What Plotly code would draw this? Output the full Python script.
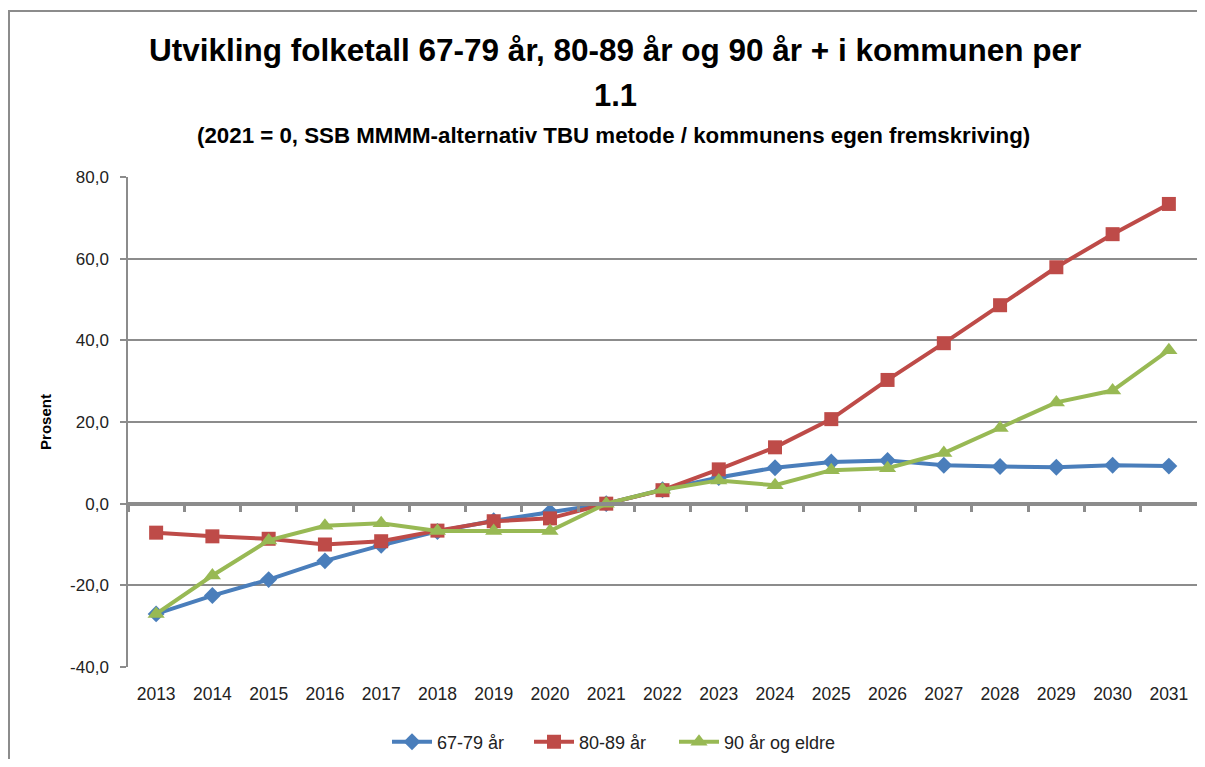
import plotly.graph_objects as go

years = list(range(2013, 2032))
s_6779 = [-27.0, -22.5, -18.6, -14.0, -10.2, -6.8, -4.2, -2.0, 0.0, 3.4, 6.4, 8.8, 10.2, 10.6, 9.4, 9.1, 8.9, 9.4, 9.2]
s_8089 = [-7.1, -8.0, -8.6, -10.0, -9.2, -6.6, -4.3, -3.6, 0.0, 3.3, 8.4, 13.8, 20.7, 30.3, 39.3, 48.6, 57.9, 66.0, 73.4]
s_90 = [-27.0, -17.6, -9.0, -5.4, -4.8, -6.7, -6.7, -6.7, 0.0, 3.4, 5.7, 4.5, 8.2, 8.7, 12.4, 18.5, 24.8, 27.7, 37.6]
names = ["67-79 år", "80-89 år", "90 år og eldre"]
y_ticks = [-40, -20, 0, 20, 40, 60, 80]
y_ticktext = ["-40,0", "-20,0", "0,0", "20,0", "40,0", "60,0", "80,0"]

colors = ["#4a7ebb", "#be4b48", "#98b954"]
symbols = ["diamond", "square", "triangle-up"]
sizes = [13, 14, 15]
legend_ids = ["legend", "legend2", "legend3"]
legend_left = [393, 535, 680]  # screen x where each legend entry starts

FONT = "Liberation Sans"
fig = go.Figure()
for vals, nm, c, sym, sz, lg in zip([s_6779, s_8089, s_90], names, colors, symbols, sizes, legend_ids):
    fig.add_trace(go.Scatter(x=years, y=vals, name=nm, mode="lines+markers", legend=lg,
                             line=dict(color=c, width=4),
                             marker=dict(symbol=sym, size=sz, color=c)))

# zero-crossing category axis with ticks between categories
fig.add_trace(go.Scatter(x=years, y=[None]*len(years), xaxis="x2", showlegend=False, hoverinfo="skip"))

OFF = 8  # page body margin
W, H = 1189, 751
ml, mr, mt, mb = 120, 0, 169, 92
pw, ph = W - ml - mr, H - mt - mb

def px(x):
    return (x - OFF - ml) / pw

def py(y):
    return (H - mb - (y - OFF)) / ph

legends = {}
for lg, xl in zip(legend_ids, legend_left):
    legends[lg] = dict(orientation="h", x=px(xl - 6), xanchor="left", y=py(742), yanchor="middle",
                       font=dict(size=18, family=FONT, color="#222222"), itemwidth=40,
                       bgcolor="rgba(0,0,0,0)")

fig.update_layout(
    width=W, height=H,
    margin=dict(l=ml, r=mr, t=mt, b=mb, autoexpand=False),
    paper_bgcolor="white", plot_bgcolor="white",
    font=dict(family=FONT, color="#222222", size=17),
    showlegend=True,
    **legends,
    xaxis=dict(range=[years[0] - 0.5, years[-1] + 0.5], tickvals=years, ticktext=[str(y) for y in years],
               showgrid=False, zeroline=False, showline=False, ticks="", ticklen=0,
               ticklabelstandoff=14,
               tickfont=dict(size=17.5, family=FONT, color="#222222")),
    xaxis2=dict(overlaying="x", anchor="free", position=40/120, side="bottom",
                range=[years[0] - 0.5, years[-1] + 0.5],
                tickvals=[y + 0.5 for y in years[:-1]] + [years[0] - 0.5],
                showticklabels=False, showgrid=False, zeroline=False,
                showline=True, linecolor="#8c8c8c", linewidth=4,
                ticks="outside", ticklen=6, tickwidth=3, tickcolor="#8c8c8c"),
    yaxis=dict(range=[-40, 80], tickvals=y_ticks, ticktext=y_ticktext,
               showgrid=True, gridcolor="#8c8c8c", gridwidth=1.5, zeroline=False,
               showline=True, linecolor="#8c8c8c", linewidth=1.5,
               ticks="outside", ticklen=6, tickcolor="#8c8c8c", tickwidth=1.5,
               ticklabelstandoff=8,
               tickfont=dict(size=17, family=FONT, color="#222222"),
               title=dict(text="<b>Prosent</b>", font=dict(size=15, family=FONT, color="#000000"), standoff=15)),
    annotations=[
        dict(text="<b>Utvikling folketall 67-79 år, 80-89 år og 90 år + i kommunen per</b>", x=px(615), y=py(50),
             xref="paper", yref="paper", showarrow=False, xanchor="center", yanchor="middle",
             font=dict(size=31.5, family=FONT, color="#000000")),
        dict(text="<b>1.1</b>", x=px(615), y=py(95), xref="paper", yref="paper", showarrow=False,
             xanchor="center", yanchor="middle", font=dict(size=31, family=FONT, color="#000000")),
        dict(text="<b>(2021 = 0, SSB MMMM-alternativ TBU metode / kommunens egen fremskriving)</b>",
             x=px(613), y=py(135), xref="paper", yref="paper", showarrow=False,
             xanchor="center", yanchor="middle", font=dict(size=22.3, family=FONT, color="#000000")),
    ],
    shapes=[dict(type="rect", xref="paper", yref="paper", x0=px(9), x1=px(1199), y0=py(790), y1=py(11),
                 line=dict(color="#8c8c8c", width=2), layer="below")],
)

fig.write_html("out.html")
